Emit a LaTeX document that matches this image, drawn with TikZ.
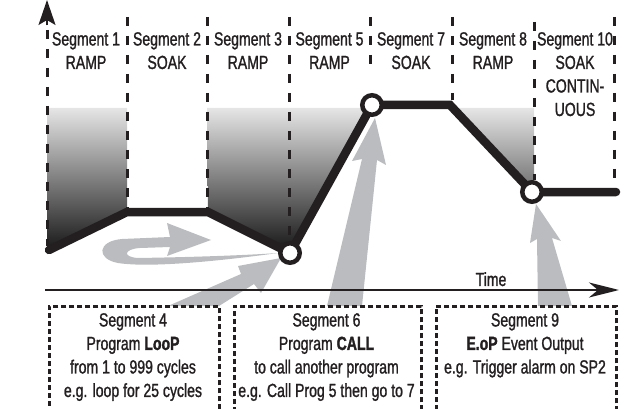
\documentclass[tikz,border=0pt]{standalone}
\usepackage{fontspec}
\setmainfont{Liberation Sans}[FakeStretch=0.74,UprightFeatures={FakeBold=1.2},BoldFeatures={FakeBold=1.6}]
\usetikzlibrary{arrows.meta}
\definecolor{ink}{RGB}{35,31,32}
\definecolor{arrowgrey}{RGB}{186,188,191}
\begin{document}
\begin{tikzpicture}[x=1pt,y=-1pt,
  segline/.style={draw=ink,line width=3pt,dash pattern=on 9pt off 10pt},
  profile/.style={draw=ink,line width=8.5pt,line cap=round,line join=miter},
  knot/.style={circle,draw=ink,fill=white,line width=4.5pt,minimum size=19.5pt,inner sep=0pt},
  lbl/.style={font=\fontsize{19}{23.5}\selectfont,text=ink,align=center,inner sep=0pt,anchor=north},
  infobox/.style={rectangle,draw=ink,line width=2.5pt,dash pattern=on 5pt off 3pt,inner sep=0pt,anchor=north west},
  greyarrow/.style={fill=arrowgrey},
  shadegrad/.style={top color=black!10,bottom color=black!92}]
\useasboundingbox (0,0) rectangle (624,409);

% profile points
\coordinate (p0) at (49,250);
\coordinate (p1) at (127,212);
\coordinate (p2) at (208,212);
\coordinate (p3) at (290,253);
\coordinate (p4) at (372,105);
\coordinate (p5) at (450,105);
\coordinate (p6) at (532,192);
\coordinate (p7) at (616,192);

% gradient fills
\begin{scope}
  \clip (47,108) -- (127,108) -- (p1) -- (p0) -- (47,250) -- cycle;
  \shade[shadegrad] (40,108) rectangle (620,253);
\end{scope}
\begin{scope}
  \clip (207,108) -- (370.5,108) -- (p3) -- (p2) -- cycle;
  \shade[shadegrad] (40,108) rectangle (620,253);
\end{scope}
\begin{scope}
  \clip (453.8,108) -- (534,108) -- (534,192) -- (p6) -- cycle;
  \shade[shadegrad] (40,108) rectangle (620,253);
\end{scope}

% grey arrows
\fill[greyarrow] (278,253) .. controls (220,261) and (150,268) .. (118,263)
  .. controls (96,259) and (97,241) .. (122,239) -- (170,237) -- (167,223)
  -- (211,240) -- (167,256) -- (170,247) -- (140,248)
  .. controls (124,249) and (122,257) .. (138,258)
  .. controls (200,257) and (250,255) .. (278,253) -- cycle;
\fill[greyarrow] (168,306) -- (241,274) -- (238,266) -- (281,258) -- (261,293) -- (254,284) -- (219,306) -- cycle;
\fill[greyarrow] (327,306) -- (362,159) -- (352,161) -- (375,118) -- (386,165) -- (377,160) -- (362,306) -- cycle;
\fill[greyarrow] (538,306) -- (537,239) -- (530,243) -- (536,204) -- (561,241) -- (552,238) -- (572,306) -- cycle;

% segment separators
\draw[segline] (47,30) -- (47,246);
\draw[segline] (127,17) -- (127,208);
\draw[segline] (207,17) -- (207,208);
\draw[segline] (289,17) -- (289,242);
\draw[segline] (370,17) -- (370,68);
\draw[segline] (452,17) -- (452,100);
\draw[segline] (534,22) -- (534,180);
\draw[segline] (614,17) -- (614,186);

% profile
\draw[profile] (p0) -- (p1) -- (p2) -- (p3) -- (p4) -- (p5) -- (p6) -- (p7);
\node[knot] (k1) at (p3) {};
\node[knot] (k2) at (p4) {};
\node[knot] (k3) at (p6) {};

% axes
\coordinate (y0) at (47,25.5);
\coordinate (y1) at (47,0);
\draw[ink,line width=2pt,-{Stealth[length=25pt,width=17pt,inset=5pt]}] (y0) -- (y1);
\coordinate (t0) at (45,290);
\coordinate (t1) at (619,290);
\draw[ink,line width=2.5pt,-{Stealth[length=30pt,width=15pt,inset=9pt]}] (t0) -- (t1);
\node[lbl] (time) at (491,272) {Time};

% info boxes
\node[infobox,minimum width=170pt,minimum height=125pt] (b1) at (48,305) {};
\node[infobox,minimum width=187pt,minimum height=125pt] (b2) at (233,305) {};
\node[infobox,minimum width=180pt,minimum height=125pt] (b3) at (435,305) {};

% segment labels
\node[lbl] (l1) at (86,32) {Segment 1\\RAMP};
\node[lbl] (l2) at (167,32) {Segment 2\\SOAK};
\node[lbl] (l3) at (248,32) {Segment 3\\RAMP};
\node[lbl] (l5) at (329.5,32) {Segment 5\\RAMP};
\node[lbl] (l7) at (411,32) {Segment 7\\SOAK};
\node[lbl] (l8) at (493,32) {Segment 8\\RAMP};
\node[lbl] (l10) at (575,32) {Segment 10\\SOAK\\CONTIN-\\UOUS};

% box texts
\node[lbl] (x4) at (133,313) {Segment 4\\Program \textbf{LooP}\\from 1 to 999 cycles\\e.g. loop for 25 cycles};
\node[lbl] (x6) at (326.5,313) {Segment 6\\Program \textbf{CALL}\\to call another program\\e.g. Call Prog 5 then go to 7};
\node[lbl] (x9) at (525,313) {Segment 9\\\textbf{E.oP} Event Output\\e.g. Trigger alarm on SP2};
\end{tikzpicture}
\end{document}
